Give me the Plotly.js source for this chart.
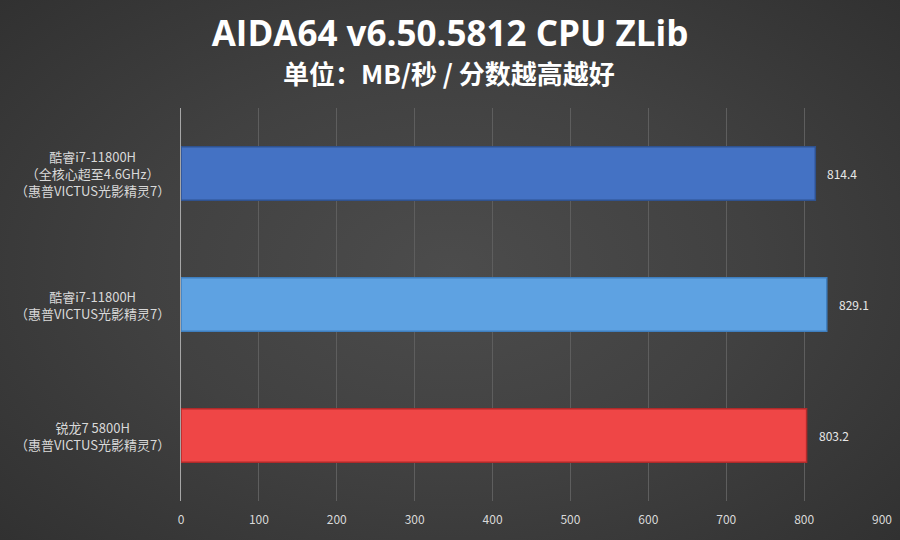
<!DOCTYPE html>
<html>
<head>
<meta charset="utf-8">
<script src="https://cdn.plot.ly/plotly-3.0.1.min.js"></script>
<style>
html,body{margin:0;padding:0;}
body{width:900px;height:540px;background:radial-gradient(ellipse 75% 80% at 50% 50%, #4c4c4c 0%, #414141 45%, #2e2e2e 100%);}
#chart{width:900px;height:540px;}
</style>
</head>
<body>
<div id="chart"></div>
<script>
const categories = [
  "酷睿i7-11800H<br>（全核心超至4.6GHz）<br>（惠普VICTUS光影精灵7）",
  "酷睿i7-11800H<br>（惠普VICTUS光影精灵7）",
  "锐龙7 5800H<br>（惠普VICTUS光影精灵7）"
];
const values = [814.4, 829.1, 803.2];
const barColors = ["#4472c4", "#5ea2e2", "#ef4646"];
const lineColors = ["#2f528f", "#3f7fbf", "#b02a2a"];
const xTicks = [0,100,200,300,400,500,600,700,800,900];

const cjk = '"Noto Sans CJK SC", "Noto Sans", sans-serif';

const trace = {
  type: 'bar',
  orientation: 'h',
  y: categories,
  x: values,
  width: 0.41,
  marker: {color: barColors, line: {color: lineColors, width: 1.5}},
  hoverinfo: 'none'
};

const annotations = categories.map(c => ({
  xref: 'paper', yref: 'y', x: 0, y: c,
  xshift: -89, xanchor: 'center', yanchor: 'middle',
  text: c, showarrow: false, align: 'center',
  font: {family: cjk, size: 13, color: '#d9d9d9'}
}));
categories.forEach((c, i) => annotations.push({
  xref: 'x', yref: 'y', x: values[i], y: c,
  xshift: 10, xanchor: 'left', yanchor: 'middle', showarrow: false,
  text: values[i].toFixed(1),
  font: {family: cjk, size: 12, color: '#e8e8e8'}
}));
annotations.push({
  xref: 'paper', yref: 'paper', x: 0.5, y: 1, yshift: 36, xshift: -83,
  xanchor: 'center', yanchor: 'middle', showarrow: false,
  text: '<b>单位：MB/秒 / 分数越高越好</b>',
  font: {family: cjk, size: 26, color: '#ffffff'}
});

const layout = {
  width: 900, height: 540,
  paper_bgcolor: 'rgba(0,0,0,0)',
  plot_bgcolor: 'rgba(0,0,0,0)',
  margin: {l: 181, r: 18, t: 108, b: 39},
  title: {
    text: '<b>AIDA64 v6.50.5812 CPU ZLib</b>',
    x: 0.5, xanchor: 'center', xref: 'container', y: 0.937, yanchor: 'middle',
    font: {family: '"Open Sans", "Noto Sans", sans-serif', size: 35, color: '#ffffff'}
  },
  showlegend: false,
  bargap: 0.59,
  xaxis: {
    range: [0, 900],
    tickvals: xTicks,
    ticktext: xTicks.map(String),
    showgrid: true, gridcolor: '#5e5e5e', gridwidth: 1,
    zeroline: false, showline: false,
    ticks: '', ticklabelstandoff: 10,
    tickfont: {family: cjk, size: 12, color: '#d9d9d9'},
    fixedrange: true
  },
  yaxis: {
    autorange: 'reversed',
    showticklabels: false,
    showgrid: false, zeroline: false,
    showline: true, linecolor: '#a6a6a6', linewidth: 1,
    ticks: '', fixedrange: true
  },
  annotations: annotations
};

Plotly.newPlot('chart', [trace], layout, {displayModeBar: false, staticPlot: true});
</script>
</body>
</html>
